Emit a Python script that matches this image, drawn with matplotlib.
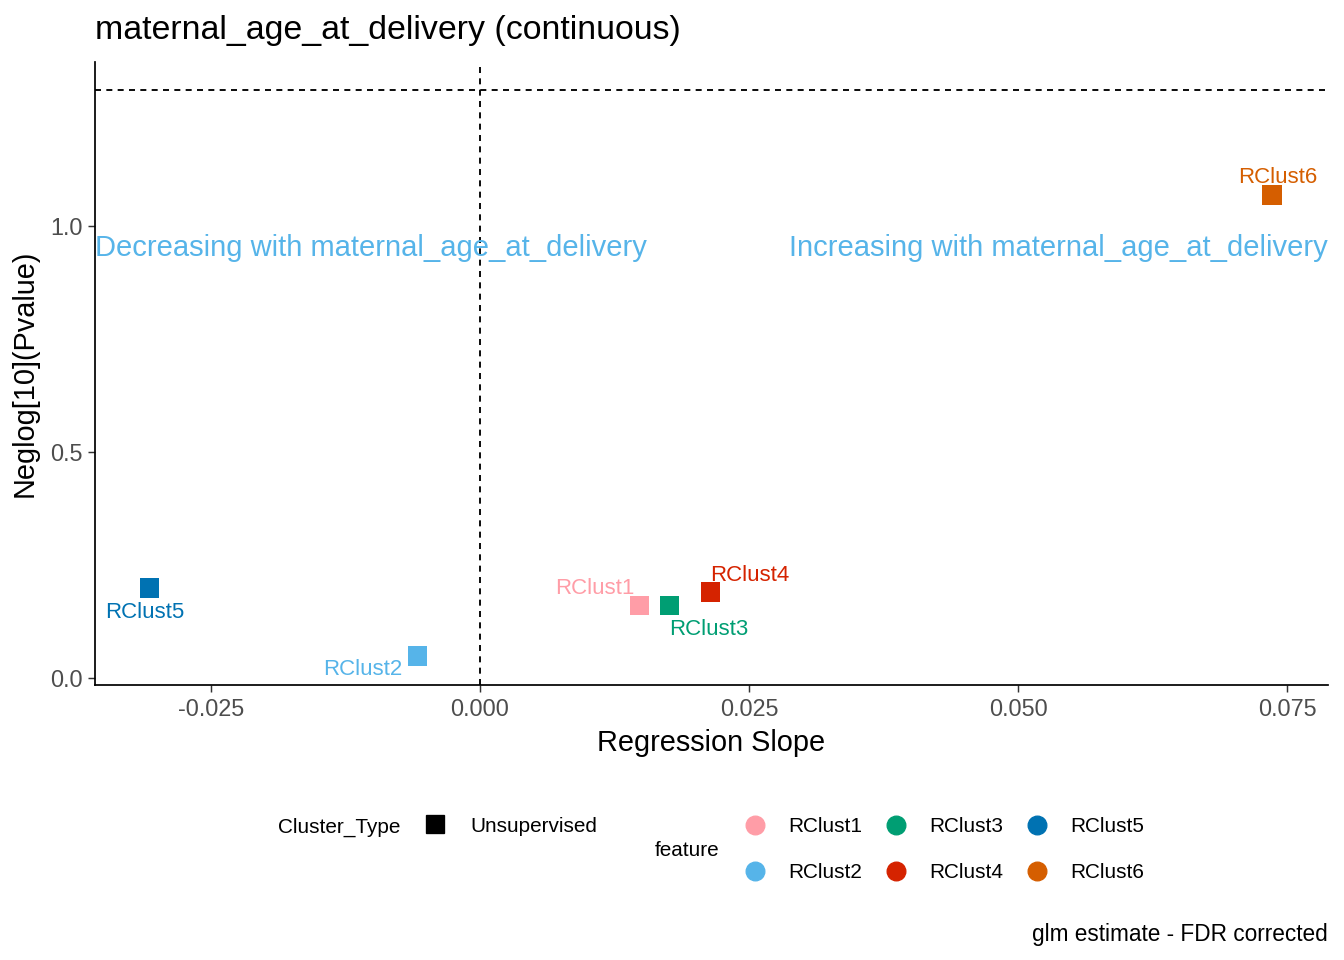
import matplotlib
matplotlib.use("Agg")
import matplotlib.pyplot as plt
from matplotlib.lines import Line2D

plt.rcParams['font.family'] = ['Liberation Sans', 'DejaVu Sans']
plt.rcParams['lines.scale_dashes'] = False

features = ["RClust1", "RClust2", "RClust3", "RClust4", "RClust5", "RClust6"]
slopes = [0.0148, -0.0058, 0.0176, 0.0214, -0.0307, 0.0736]
neglogp = [0.161, 0.049, 0.161, 0.190, 0.199, 1.069]
colors = ["#FF9DA7", "#56B4E9", "#009E73", "#D52300", "#0072B2", "#D55E00"]
# label offsets in pixels (dx, dy) and alignment
label_offsets = [(-5, 17, 'right'), (-15, -14, 'right'), (0, -24, 'left'),
                 (0, 17, 'left'), (-5, -24, 'center'), (6, 17, 'center')]
xticks = [-0.025, 0.000, 0.025, 0.050, 0.075]
yticks = [0.0, 0.5, 1.0]
pval_threshold = 1.30103

DPI = 96
fig = plt.figure(figsize=(1344 / DPI, 960 / DPI), dpi=DPI)
ax = fig.add_axes([95 / 1344, 1 - 685 / 960, (1328 - 95) / 1344, (685 - 62) / 960])

ax.set_xlim(-0.03578, 0.0788)
ax.set_ylim(-0.0155, 1.363)

ax.axhline(pval_threshold, color='black', lw=1.4, dashes=(4.5, 4))
ax.axvline(0, color='black', lw=1.4, dashes=(4.5, 4))

for x, y, c in zip(slopes, neglogp, colors):
    ax.scatter([x], [y], marker='s', s=14.5 ** 2, color=c, edgecolors='none', zorder=3)

for f, x, y, c, (dx, dy, ha) in zip(features, slopes, neglogp, colors, label_offsets):
    ax.annotate(f, (x, y), xytext=(dx * 72 / DPI, dy * 72 / DPI), textcoords='offset points',
                ha=ha, va='center', color=c, fontsize=16.7, zorder=4)

ax.text(-0.03578, 0.952, "Decreasing with maternal_age_at_delivery", color="#56B4E9",
        fontsize=21.8, ha='left', va='center')
ax.text(0.0788, 0.952, "Increasing with maternal_age_at_delivery", color="#56B4E9",
        fontsize=21.8, ha='right', va='center')

ax.set_xticks(xticks)
ax.set_xticklabels([f"{v:.3f}" for v in xticks])
ax.set_yticks(yticks)
ax.set_yticklabels([f"{v:.1f}" for v in yticks])
ax.tick_params(axis='both', labelsize=17.5, colors='#333333', labelcolor='#4D4D4D',
               length=5.5, width=1.1, pad=4)
for s in ['top', 'right']:
    ax.spines[s].set_visible(False)
for s in ['left', 'bottom']:
    ax.spines[s].set_linewidth(1.3)
    ax.spines[s].set_color('black')

ax.set_xlabel("Regression Slope", fontsize=21.7, labelpad=6)
ax.set_ylabel("Neglog[10](Pvalue)", fontsize=21.7, labelpad=8)

fig.text(95 / 1344, 1 - 31 / 960, "maternal_age_at_delivery (continuous)", fontsize=25.4,
         ha='left', va='center')
fig.text(1328 / 1344, 1 - 934 / 960, "glm estimate - FDR corrected", fontsize=17,
         ha='right', va='center')

# Legend: Cluster_Type
lfs = 15.6
fig.text(278 / 1344, 1 - 827 / 960, "Cluster_Type", fontsize=lfs, ha='left', va='center')
fig.add_artist(Line2D([435 / 1344], [1 - 824 / 960], marker='s', markersize=13, color='black',
                      linestyle='none', transform=fig.transFigure))
fig.text(470 / 1344, 1 - 827 / 960, "Unsupervised", fontsize=lfs, ha='left', va='center')

# Legend: feature
fig.text(655 / 1344, 1 - 850 / 960, "feature", fontsize=lfs, ha='left', va='center')
leg_x = [755, 755, 896, 896, 1037, 1037]
leg_y = [825, 871, 825, 871, 825, 871]
for f, c, lx, ly in zip(features, colors, leg_x, leg_y):
    fig.add_artist(Line2D([lx / 1344], [1 - ly / 960], marker='o', markersize=14, color=c,
                          linestyle='none', transform=fig.transFigure))
    fig.text((lx + 33) / 1344, 1 - (ly + 2) / 960, f, fontsize=lfs, ha='left', va='center')

fig.savefig("out.png", dpi=DPI, facecolor='white')
